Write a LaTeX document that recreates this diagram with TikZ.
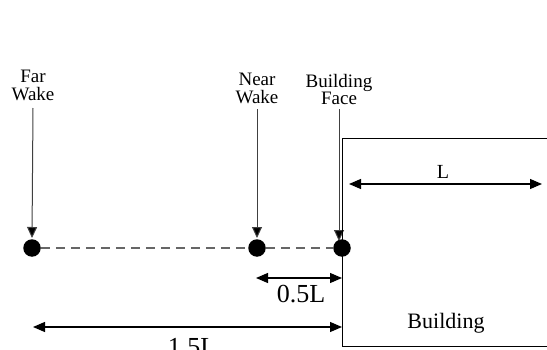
\documentclass[tikz,border=0pt]{standalone}
\usepackage{fontspec}
\setmainfont{Liberation Serif}
\usetikzlibrary{arrows.meta}
\begin{document}
\begin{tikzpicture}[x=1pt,y=1pt,
  dot/.style={circle,fill=black,inner sep=0pt,minimum size=17.5pt},
  lbl/.style={font=\fontsize{19}{17.5}\selectfont,align=center,inner sep=0pt,anchor=north},
  dimtxt/.style={font=\fontsize{26}{28}\selectfont,inner sep=0pt,anchor=base},
  pointer/.style={draw=black!75,line width=1pt,-{Triangle[length=11pt,width=10pt,fill=black]}},
  dim/.style={draw=black,line width=1.2pt,{Triangle[length=12pt,width=10pt]}-{Triangle[length=12pt,width=10pt]}},
  wall/.style={draw=black,line width=1pt}]
\useasboundingbox (0,0) rectangle (547,349);
% dots
\node[dot] (far) at (32,101) {};
\node[dot] (near) at (257,101) {};
\node[dot] (face) at (342,101) {};
\draw[draw=black!60,line width=1.5pt,dash pattern=on 9pt off 6pt] (far) -- (near) -- (face);
% labels
\node[lbl] (farl) at (33,279) {Far\\Wake};
\node[lbl] (nearl) at (257,276) {Near\\Wake};
\node[lbl] (facel) at (339,275) {Building\\Face};
\coordinate (farend) at (32,111);
\coordinate (nearend) at (257,111);
\coordinate (faceend) at (339,108);
\draw[pointer] (33,241) -- (farend);
\draw[pointer] (257,240) -- (nearend);
\draw[pointer] (339,240) -- (faceend);
% building
\coordinate (b1) at (547,211);
\coordinate (b2) at (342.5,211);
\coordinate (b3) at (342.5,3);
\coordinate (b4) at (547,3);
\draw[wall] (b1) -- (b2) -- (b3) -- (b4);
\node[font=\fontsize{22}{24}\selectfont,inner sep=0pt,anchor=base] (bl) at (446,21) {Building};
% L
\coordinate (la) at (349,165);
\coordinate (lb) at (542,165);
\draw[dim] (la) -- (lb);
\node[font=\fontsize{20}{22}\selectfont,inner sep=0pt,anchor=base] (ll) at (443,171) {L};
% 0.5L
\coordinate (ha) at (256,71);
\coordinate (hb) at (342,71);
\draw[dim] (ha) -- (hb);
\node[dimtxt] (hl) at (301,47) {0.5L};
% 1.5L
\coordinate (fa) at (33,22);
\coordinate (fb) at (342,22);
\draw[dim] (fa) -- (fb);
\node[dimtxt] (fl) at (192,-6) {1.5L};
\end{tikzpicture}
\end{document}
